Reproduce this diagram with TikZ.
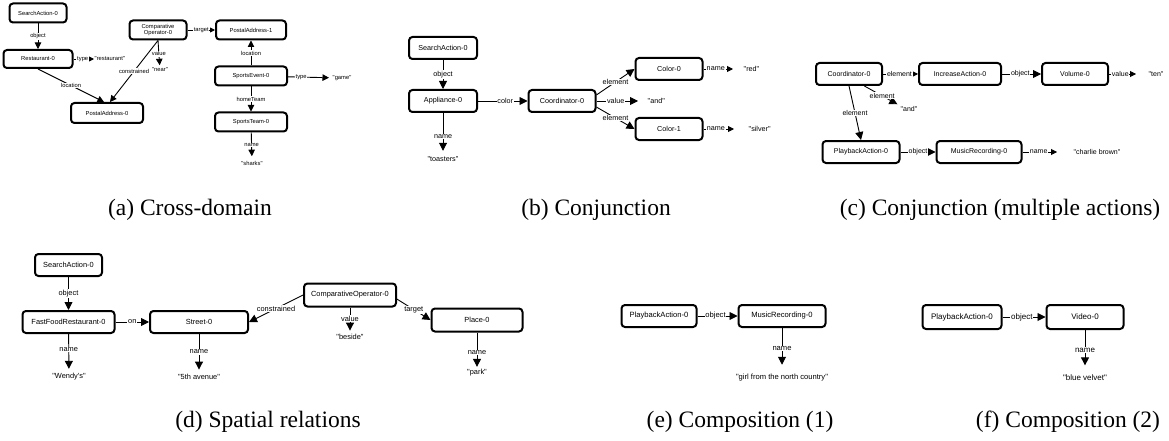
\documentclass[tikz,border=0pt]{standalone}
\usepackage{fontspec}
\setmainfont{Liberation Serif}
\newfontfamily\diagfont{Liberation Sans}
\usetikzlibrary{arrows.meta}

\tikzset{
  entity/.style={draw, line width=2pt, rounded corners=3.5pt, align=center, inner sep=1pt},
  literal/.style={inner sep=0.5pt},
  rel/.style={-{Triangle[length=#1,width=#1]}, line width=0.9pt},
  rel/.default=8pt,
  lbl/.style={fill=white, inner sep=0.8pt},
  subcaption/.style={font=\fontsize{23.5}{26}\selectfont, anchor=base}
}

\begin{document}
\begin{tikzpicture}[x=1pt, y=-1pt]
  \useasboundingbox (0,0) rectangle (1169,441);

  % (a) cross-domain
  \begin{scope}[font=\diagfont\fontsize{5.8}{6.4}\selectfont, rel/.default=6.5pt]
    \node[entity, minimum width=57pt, minimum height=19pt] (a-search) at (38,13) {SearchAction-0};
    \node[entity, minimum width=69pt, minimum height=18pt] (a-rest) at (38,59) {Restaurant-0};
    \node[entity, minimum width=72pt, minimum height=20pt] (a-pa0) at (107,113) {PostalAddress-0};
    \node[entity, minimum width=57pt, minimum height=19pt] (a-comp) at (158,30) {Comparative\\Operator-0};
    \node[entity, minimum width=70pt, minimum height=19pt] (a-pa1) at (251,30) {PostalAddress-1};
    \node[entity, minimum width=72pt, minimum height=19pt] (a-event) at (251,76) {SportsEvent-0};
    \node[entity, minimum width=72pt, minimum height=19pt] (a-team) at (251,122) {SportsTeam-0};
    \node[literal, anchor=west] (a-restaurant) at (94,59) {"restaurant"};
    \node[literal] (a-near) at (160,70) {"near"};
    \node[literal, anchor=west] (a-game) at (332,78) {"game"};
    \node[literal] (a-sharks) at (252,163) {"sharks"};

    \draw[rel] (a-search) -- node[lbl] {object} (a-rest);
    \draw[rel=5pt] (a-rest) -- node[lbl, pos=0.45] {type} (a-restaurant);
    \draw[rel] (a-rest.south) -- node[lbl] {location} ([xshift=-3pt]a-pa0.north);
    \draw[rel] (a-comp.south) -- node[lbl] {constrained} ([xshift=3pt]a-pa0.north);
    \draw[rel, shorten >=2pt] (a-comp.south) -- node[lbl] {value} (a-near);
    \draw[rel=5pt] (a-comp) -- node[lbl, pos=0.5] {target} (a-pa1);
    \draw[rel] (a-event) -- node[lbl] {location} (a-pa1);
    \draw[rel, shorten >=3pt] (a-event) -- node[lbl, pos=0.3] {type} (a-game);
    \draw[rel] (a-event) -- node[lbl] {homeTeam} (a-team);
    \draw[rel, shorten >=4pt] (a-team) -- node[lbl, pos=0.45] {name} (a-sharks);
  \end{scope}

  % (b) conjunction
  \begin{scope}[font=\diagfont\fontsize{7.2}{8}\selectfont]
    \node[entity, minimum width=68pt, minimum height=22pt] (b-search) at (443,48) {SearchAction-0};
    \node[entity, minimum width=68pt, minimum height=22pt] (b-appl) at (443,101) {Appliance-0};
    \node[entity, minimum width=67pt, minimum height=22pt] (b-coord) at (562,101) {Coordinator-0};
    \node[entity, minimum width=67pt, minimum height=22pt] (b-col0) at (669,69) {Color-0};
    \node[entity, minimum width=67pt, minimum height=22pt] (b-col1) at (669,129) {Color-1};
    \node[literal] (b-toasters) at (443,159) {"toasters"};
    \node[literal, anchor=west] (b-and) at (647,101) {"and"};
    \node[literal, anchor=west] (b-red) at (743,69) {"red"};
    \node[literal, anchor=west] (b-silver) at (748,129) {"silver"};

    \draw[rel] (b-search) -- node[lbl] {object} (b-appl);
    \draw[rel, shorten >=5pt] (b-appl) -- node[lbl, pos=0.55] {name} (b-toasters);
    \draw[rel] (b-appl) -- node[lbl, pos=0.55] {color} (b-coord);
    \draw[rel] (b-coord.10) -- node[lbl] {element} (b-col0.west);
    \draw[rel] (b-coord.-10) -- node[lbl] {element} (b-col1.west);
    \draw[rel, shorten >=9pt] (b-coord) -- node[lbl, pos=0.38] {value} (b-and);
    \draw[rel=6pt, shorten >=10pt] (b-col0) -- node[lbl, pos=0.31] {name} (b-red);
    \draw[rel=6pt, shorten >=14pt] (b-col1) -- node[lbl, pos=0.28] {name} (b-silver);
  \end{scope}

  % (c) conjunction of two actions
  \begin{scope}[font=\diagfont\fontsize{7}{8}\selectfont]
    \node[entity, minimum width=66pt, minimum height=22pt] (c-coord) at (849,74) {Coordinator-0};
    \node[entity, minimum width=82pt, minimum height=22pt] (c-inc) at (960,74) {IncreaseAction-0};
    \node[entity, minimum width=66pt, minimum height=22pt] (c-vol) at (1075,74) {Volume-0};
    \node[entity, minimum width=77pt, minimum height=22pt] (c-play) at (861,152) {PlaybackAction-0};
    \node[entity, minimum width=85pt, minimum height=22pt] (c-music) at (979,152) {MusicRecording-0};
    \node[literal, anchor=west] (c-ten) at (1148,74) {"ten"};
    \node[literal] (c-and) at (909,109) {"and"};
    \node[literal, anchor=west] (c-brown) at (1073,152) {"charlie brown"};

    \draw[rel=6pt] (c-coord) -- node[lbl, pos=0.47] {element} (c-inc);
    \draw[rel] (c-inc) -- node[lbl, pos=0.47] {object} (c-vol);
    \draw[rel=6pt, shorten >=12pt] (c-vol) -- node[lbl, pos=0.29] {value} (c-ten);
    \draw[rel, shorten >=3pt] (c-coord.-38) -- node[lbl] {element} (c-and.north west);
    \draw[rel] (c-coord.south) -- node[lbl] {element} (c-play.north);
    \draw[rel] (c-play) -- node[lbl, pos=0.5] {object} (c-music);
    \draw[rel=6pt, shorten >=16pt] (c-music) -- node[lbl, pos=0.32] {name} (c-brown);
  \end{scope}

  % (d) spatial relations
  \begin{scope}[font=\diagfont\fontsize{7.4}{8.2}\selectfont]
    \node[entity, minimum width=67pt, minimum height=22pt] (d-search) at (68.5,265) {SearchAction-0};
    \node[entity, minimum width=92pt, minimum height=22pt] (d-ffr) at (68.5,322) {FastFoodRestaurant-0};
    \node[entity, minimum width=98pt, minimum height=22pt] (d-street) at (199,322) {Street-0};
    \node[entity, minimum width=92pt, minimum height=23pt] (d-comp) at (350,295) {ComparativeOperator-0};
    \node[entity, minimum width=91pt, minimum height=23pt] (d-place) at (477,320) {Place-0};
    \node[literal] (d-wendys) at (69,377) {"Wendy's"};
    \node[literal] (d-fifth) at (199,377) {"5th avenue"};
    \node[literal] (d-beside) at (350,337) {"beside"};
    \node[literal] (d-park) at (477,373) {"park"};

    \draw[rel] (d-search) -- node[lbl] {object} (d-ffr);
    \draw[rel] (d-ffr) -- node[lbl, pos=0.5] {on} (d-street);
    \draw[rel, shorten >=4pt] (d-ffr) -- node[lbl, pos=0.4] {name} (d-wendys);
    \draw[rel, shorten >=4pt] (d-street) -- node[lbl, pos=0.45] {name} (d-fifth);
    \draw[rel] (d-comp.west) -- node[lbl] {constrained} (d-street.east);
    \draw[rel, shorten >=3pt] (d-comp) -- node[lbl, pos=0.42] {value} (d-beside);
    \draw[rel] (d-comp.-5) -- node[lbl] {target} (d-place.west);
    \draw[rel, shorten >=2pt] (d-place) -- node[lbl, pos=0.55] {name} (d-park);
  \end{scope}

  % (e) composition 1
  \begin{scope}[font=\diagfont\fontsize{7.6}{8.4}\selectfont]
    \node[entity, minimum width=75pt, minimum height=22pt] (e-play) at (659,316) {PlaybackAction-0};
    \node[entity, minimum width=87pt, minimum height=22pt] (e-music) at (782,316) {MusicRecording-0};
    \node[literal] (e-girl) at (782,378) {"girl from the north country"};

    \draw[rel] (e-play) -- node[lbl, pos=0.45] {object} (e-music);
    \draw[rel, shorten >=9pt] (e-music) -- node[lbl, pos=0.45] {name} (e-girl);
  \end{scope}

  % (f) composition 2
  \begin{scope}[font=\diagfont\fontsize{8}{9}\selectfont]
    \node[entity, minimum width=79pt, minimum height=24pt] (f-play) at (962,317) {PlaybackAction-0};
    \node[entity, minimum width=77pt, minimum height=24pt] (f-video) at (1085,317) {Video-0};
    \node[literal] (f-blue) at (1085,378) {"blue velvet"};

    \draw[rel] (f-play) -- node[lbl, pos=0.45] {object} (f-video);
    \draw[rel, shorten >=9pt] (f-video) -- node[lbl, pos=0.45] {name} (f-blue);
  \end{scope}

  % captions
  \node[subcaption] (cap-a) at (190,215) {(a) Cross-domain};
  \node[subcaption] (cap-b) at (596,215) {(b) Conjunction};
  \node[subcaption] (cap-c) at (1000,215) {(c) Conjunction (multiple actions)};
  \node[subcaption] (cap-d) at (268,427) {(d) Spatial relations};
  \node[subcaption] (cap-e) at (740,427) {(e) Composition (1)};
  \node[subcaption] (cap-f) at (1068,427) {(f) Composition (2)};
\end{tikzpicture}
\end{document}
